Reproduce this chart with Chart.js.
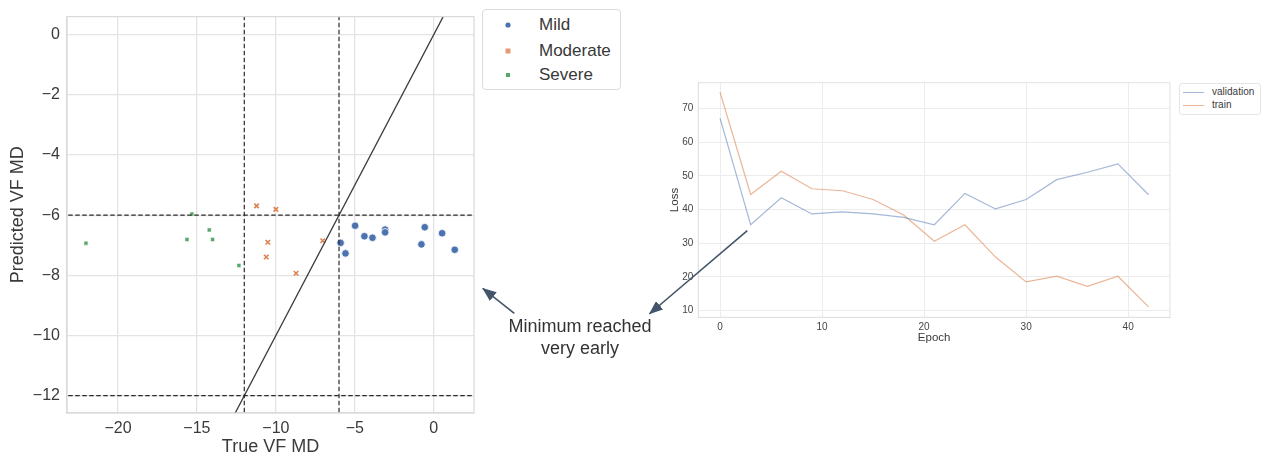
<!DOCTYPE html>
<html><head><meta charset="utf-8">
<script src="https://cdn.jsdelivr.net/npm/chart.js@4"></script>
<style>
html,body{margin:0;padding:0;background:#fff;width:1266px;height:456px;overflow:hidden;font-family:"Liberation Sans",Arial,sans-serif;color:#333;}
#c1{position:absolute;left:0;top:0;}
#c2{position:absolute;left:668px;top:70px;}
#leg1{position:absolute;left:482px;top:9px;width:139px;height:81px;box-sizing:border-box;border:1px solid #dcdcdc;border-radius:4px;background:#fff;}
#leg1 .it{position:absolute;left:0;font-size:17px;line-height:20px;height:20px;color:#383838;}
#leg1 svg{position:absolute;left:20px;top:5px;}
#leg1 span{position:absolute;left:56px;top:0;white-space:nowrap;}
#leg2{position:absolute;left:1179px;top:83px;width:82px;height:32px;box-sizing:border-box;border:1px solid #e4e4e4;border-radius:3px;background:#fff;}
#leg2 .it{position:absolute;left:0;height:12px;font-size:10px;line-height:12px;color:#3a3a3a;}
#leg2 i{position:absolute;left:3px;top:6px;width:21px;height:0;border-top:1.2px solid;}
#leg2 span{position:absolute;left:32px;top:0;white-space:nowrap;}
#note{position:absolute;left:480px;top:315px;width:200px;text-align:center;font-size:18px;line-height:22px;color:#333;}
#arrows{position:absolute;left:0;top:0;pointer-events:none;}
</style>
</head><body>
<canvas id="c1" width="480" height="458"></canvas>
<canvas id="c2" width="507" height="275"></canvas>
<div id="leg1">
  <div class="it" style="top:5px"><svg width="10" height="10"><circle cx="5" cy="5" r="2.6" fill="#4c72b0"/></svg><span>Mild</span></div>
  <div class="it" style="top:31px"><svg width="10" height="10"><rect x="2.5" y="2.5" width="5" height="5" fill="#e59a74"/></svg><span>Moderate</span></div>
  <div class="it" style="top:55px"><svg width="10" height="10"><rect x="3" y="3" width="4" height="4" fill="#55a868"/></svg><span>Severe</span></div>
</div>
<div id="leg2">
  <div class="it" style="top:2px"><i style="border-color:rgba(76,114,176,0.5)"></i><span>validation</span></div>
  <div class="it" style="top:15px"><i style="border-color:rgba(221,132,82,0.6)"></i><span>train</span></div>
</div>
<div id="note">Minimum reached<br>very early</div>
<svg id="arrows" width="1266" height="456">
  <defs>
    <marker id="ah" markerWidth="14" markerHeight="11" refX="13.5" refY="5.5" orient="auto" markerUnits="userSpaceOnUse">
      <path d="M0,0 L14,5.5 L0,11 z" fill="#44546a"/>
    </marker>
  </defs>
  <line x1="514.3" y1="313.3" x2="482.7" y2="288.3" stroke="#44546a" stroke-width="1.6" marker-end="url(#ah)"/>
  <line x1="747.3" y1="230.7" x2="649.3" y2="314" stroke="#44546a" stroke-width="1.6" marker-end="url(#ah)"/>
</svg>
<script>
// ---- Left chart data (True VF MD vs Predicted VF MD) ----
const mildX = [-5.90, -5.59, -4.98, -4.39, -3.88, -3.08, -3.08, -0.78, -0.57, 0.53, 1.33];
const mildY = [-6.92, -7.27, -6.35, -6.70, -6.75, -6.48, -6.57, -6.97, -6.40, -6.60, -7.15];
const moderateX = [-11.22, -10.00, -10.51, -10.61, -8.72, -7.03];
const moderateY = [-5.69, -5.81, -6.90, -7.39, -7.93, -6.85];
const severeX = [-22.03, -15.63, -15.32, -14.22, -14.01, -12.34];
const severeY = [-6.93, -6.81, -5.96, -6.49, -6.81, -7.67];
const thresholdX = [-12, -6];
const thresholdY = [-6, -12];
const identityEnds = [-14, 2];
const scatterXTicks = [-20, -15, -10, -5, 0];
const scatterYTicks = [0, -2, -4, -6, -8, -10, -12];

// ---- Right chart data (loss curves) ----
const epochs = [0, 3, 6, 9, 12, 15, 18, 21, 24, 27, 30, 33, 36, 39, 42];
const validationLoss = [67.2, 35.5, 43.5, 38.7, 39.3, 38.7, 37.7, 35.5, 44.8, 40.2, 43.0, 48.9, 51.1, 53.6, 44.4];
const trainLoss = [74.85, 44.5, 51.4, 46.2, 45.6, 43.0, 38.4, 30.6, 35.5, 25.9, 18.5, 20.2, 17.2, 20.2, 11.1];
const epochTicks = [0, 10, 20, 30, 40];
const lossTicks = [10, 20, 30, 40, 50, 60, 70];

const FONT = '"Liberation Sans", Arial, sans-serif';
const TXT = '#3a3a3a';
const minus = v => (v < 0 ? '\u2212' + Math.abs(v) : String(v));
const zip = (xs, ys) => xs.map((x, i) => ({x: x, y: ys[i]}));

const frame = {
  id: 'frame',
  afterDatasetsDraw(chart, args, opts) {
    const a = chart.chartArea, ctx = chart.ctx;
    ctx.save();
    ctx.strokeStyle = opts.color; ctx.lineWidth = opts.width;
    ctx.strokeRect(a.left, a.top, a.right - a.left, a.bottom - a.top);
    ctx.restore();
  }
};

Chart.defaults.font.family = FONT;

const dashStyle = {showLine: true, pointRadius: 0, borderColor: '#2a2a2a', borderWidth: 1.2, borderDash: [4.5, 2.5], fill: false};
const lineDatasets = [];
thresholdX.forEach(v => lineDatasets.push(Object.assign({data: [{x: v, y: -30}, {x: v, y: 10}]}, dashStyle)));
thresholdY.forEach(v => lineDatasets.push(Object.assign({data: [{x: -40, y: v}, {x: 10, y: v}]}, dashStyle)));
lineDatasets.push({data: identityEnds.map(v => ({x: v, y: v})), showLine: true, pointRadius: 0, borderColor: '#3a3a3a', borderWidth: 1.3, fill: false});

new Chart(document.getElementById('c1'), {
  type: 'scatter',
  data: {datasets: lineDatasets.concat([
    {label: 'Mild', data: zip(mildX, mildY), pointStyle: 'circle', pointRadius: 3.8, backgroundColor: '#4c72b0', borderColor: '#ffffff', borderWidth: 0.8},
    {label: 'Moderate', data: zip(moderateX, moderateY), pointStyle: 'crossRot', pointRadius: 3.2, backgroundColor: '#dd8452', borderColor: '#dd8452', borderWidth: 1.7},
    {label: 'Severe', data: zip(severeX, severeY), pointStyle: 'rect', pointRadius: 2.8, backgroundColor: '#55a868', borderColor: '#ffffff', borderWidth: 0.5}
  ])},
  plugins: [frame],
  options: {
    responsive: false, animation: false, devicePixelRatio: 1,
    layout: {padding: {left: 7, top: 10, right: 6, bottom: 0}},
    plugins: {legend: {display: false}, tooltip: {enabled: false}, frame: {color: '#d9d9d9', width: 1.2}},
    scales: {
      x: {
        type: 'linear', min: -23.23, max: 2.55,
        afterBuildTicks: s => { s.ticks = scatterXTicks.map(v => ({value: v})); },
        afterFit: s => { s.height = 45; },
        grid: {color: '#e3e3e3', lineWidth: 1.3, drawTicks: false},
        border: {color: '#d9d9d9', width: 1.2},
        ticks: {padding: 6, color: TXT, font: {size: 16}, callback: v => minus(v)},
        title: {display: true, text: 'True VF MD', color: TXT, font: {size: 18}, padding: 0}
      },
      y: {
        type: 'linear', min: -12.575, max: 0.6,
        afterBuildTicks: s => { s.ticks = scatterYTicks.map(v => ({value: v})); },
        afterFit: s => { s.width = 60; },
        grid: {color: '#e3e3e3', lineWidth: 1.3, drawTicks: false},
        border: {color: '#d9d9d9', width: 1.2},
        ticks: {padding: 7, color: TXT, font: {size: 16}, callback: v => minus(v)},
        title: {display: true, text: 'Predicted VF MD', color: TXT, font: {size: 18}, padding: 0}
      }
    }
  }
});

new Chart(document.getElementById('c2'), {
  type: 'line',
  data: {datasets: [
    {label: 'validation', data: zip(epochs, validationLoss), borderColor: 'rgba(76,114,176,0.5)', borderWidth: 1.2, pointRadius: 0, fill: false, tension: 0},
    {label: 'train', data: zip(epochs, trainLoss), borderColor: 'rgba(221,132,82,0.6)', borderWidth: 1.2, pointRadius: 0, fill: false, tension: 0}
  ]},
  plugins: [frame],
  options: {
    responsive: false, animation: false, devicePixelRatio: 1,
    layout: {padding: {left: 0, top: 12.7, right: 5, bottom: 0}},
    plugins: {legend: {display: false}, tooltip: {enabled: false}, frame: {color: '#e2e2e2', width: 1}},
    scales: {
      x: {
        type: 'linear', min: -2.13, max: 44.1,
        afterBuildTicks: s => { s.ticks = epochTicks.map(v => ({value: v})); },
        afterFit: s => { s.height = 27.7; },
        grid: {color: '#ececec', lineWidth: 1, drawTicks: false},
        border: {color: '#e2e2e2', width: 1},
        ticks: {padding: 3.5, color: '#444', font: {size: 10}},
        title: {display: true, text: 'Epoch', color: TXT, font: {size: 11.5}, padding: 0}
      },
      y: {
        type: 'linear', min: 8.0, max: 77.7,
        afterBuildTicks: s => { s.ticks = lossTicks.map(v => ({value: v})); },
        afterFit: s => { s.width = 30.3; },
        grid: {color: '#ececec', lineWidth: 1, drawTicks: false},
        border: {color: '#e2e2e2', width: 1},
        ticks: {padding: 5, color: '#444', font: {size: 10}},
        title: {display: true, text: 'Loss', color: TXT, font: {size: 11.5}, padding: 0}
      }
    }
  }
});
</script>
</body></html>
